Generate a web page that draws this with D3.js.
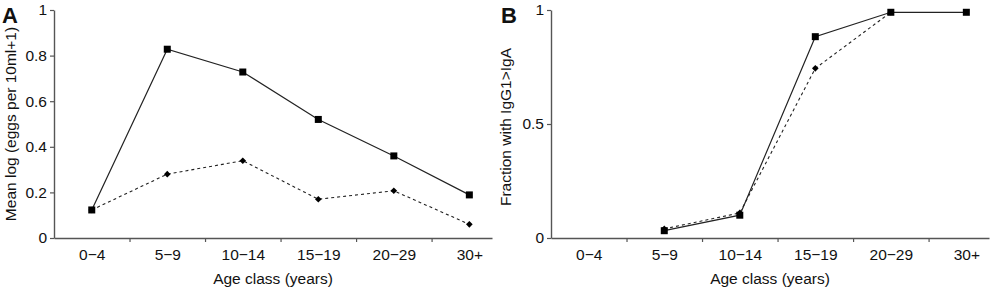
<!DOCTYPE html>
<html>
<head>
<meta charset="utf-8">
<script src="https://cdn.jsdelivr.net/npm/d3@7"></script>
<style>
body { margin: 0; background: #fff; }
text { font-family: "Liberation Sans", Arial, Helvetica, sans-serif; fill: #111; }
</style>
</head>
<body>
<script>
// age classes on the x axis (both panels)
const ageClasses = ["0\u22124", "5\u22129", "10\u221214", "15\u221219", "20\u221229", "30+"];

// panel A: mean log eggs
const eggsSolid = [0.123, 0.828, 0.728, 0.52, 0.36, 0.189];
const eggsDashed = [0.123, 0.28, 0.339, 0.17, 0.207, 0.06];
const eggsTicks = [0, 0.2, 0.4, 0.6, 0.8, 1];

// panel B: fraction IgG1 > IgA
const igSolid = [null, 0.032, 0.10, 0.883, 0.99, 0.99];
const igDashed = [null, 0.04, 0.11, 0.744, 0.99, null];
const igTicks = [0, 0.5, 1];

const W = 992, H = 291;
const svg = d3.select("body").append("svg")
    .attr("width", W)
    .attr("height", H);

const yTop = 10, yBottom = 238;
const axisCol = "#555";
const lineCol = "#222";
const fs = 15.5;

function panel(opt) {
    const g = svg.append("g");

    const x = d3.scaleLinear([-0.5, 5.3], [opt.left, opt.right]);
    const y = d3.scaleLinear([0, 1], [yBottom, yTop]);

    // x axis: tick marks between classes
    const xAx = g.append("g")
        .attr("transform", `translate(0, ${yBottom})`)
        .call(d3.axisBottom(x).tickValues([0.5, 1.5, 2.5, 3.5, 4.5]).tickSize(4).tickSizeOuter(0).tickFormat(""));
    xAx.select(".domain").attr("stroke", axisCol).attr("stroke-width", 1.4);
    xAx.selectAll(".tick line").attr("stroke", axisCol).attr("stroke-width", 1.2);

    // x labels centered on each class
    const xLab = g.append("g")
        .attr("transform", `translate(0, ${yBottom})`)
        .call(d3.axisBottom(x).tickValues(d3.range(ageClasses.length)).tickSize(0).tickPadding(11)
            .tickFormat(i => ageClasses[i]));
    xLab.select(".domain").remove();
    xLab.selectAll("text").attr("font-size", fs).style("font-family", "'Liberation Sans', Arial, sans-serif").attr("fill", "#111");

    // y axis
    const yAx = g.append("g")
        .attr("transform", `translate(${opt.left}, 0)`)
        .call(d3.axisLeft(y).tickValues(opt.ticks).tickSize(4).tickSizeOuter(0).tickPadding(3)
            .tickFormat(d => d3.format("~g")(d)));
    yAx.select(".domain").attr("stroke", axisCol).attr("stroke-width", 1.4);
    yAx.selectAll(".tick line").attr("stroke", axisCol).attr("stroke-width", 1.2);
    yAx.selectAll("text").attr("font-size", fs).style("font-family", "'Liberation Sans', Arial, sans-serif").attr("fill", "#111");

    const line = d3.line()
        .defined(d => d != null)
        .x((d, i) => x(i))
        .y(d => y(d));

    // dashed series
    g.append("path")
        .datum(opt.dashed)
        .attr("fill", "none")
        .attr("stroke", lineCol)
        .attr("stroke-width", 1.1)
        .attr("stroke-dasharray", "3,3")
        .attr("d", line);

    // solid series
    g.append("path")
        .datum(opt.solid)
        .attr("fill", "none")
        .attr("stroke", lineCol)
        .attr("stroke-width", 1.2)
        .attr("d", line);

    // diamonds = small squares turned 45 degrees
    const dia = d3.symbol().type(d3.symbolSquare).size(22);
    g.append("g").selectAll("path")
        .data(opt.dashed.map((v, i) => ({ v, i })).filter(d => d.v != null))
        .enter()
        .append("path")
        .attr("d", dia)
        .attr("fill", "#000")
        .attr("transform", d => `translate(${x(d.i)}, ${y(d.v)}) rotate(45)`);

    g.append("g").selectAll("rect")
        .data(opt.solid.map((v, i) => ({ v, i })).filter(d => d.v != null))
        .enter()
        .append("rect")
        .attr("x", d => x(d.i) - 3.5)
        .attr("y", d => y(d.v) - 3.5)
        .attr("width", 7)
        .attr("height", 7)
        .attr("fill", "#000");

    // titles
    g.append("text")
        .attr("x", (opt.left + opt.right) / 2)
        .attr("y", 284)
        .attr("text-anchor", "middle")
        .attr("font-size", fs)
        .text("Age class (years)");

    g.append("text")
        .attr("transform", `translate(${opt.yLabX}, ${opt.yLabY}) rotate(-90)`)
        .attr("text-anchor", "middle")
        .attr("font-size", fs)
        .text(opt.yLabel);

    g.append("text")
        .attr("x", opt.letterX)
        .attr("y", 23)
        .attr("font-size", 22)
        .attr("font-weight", "bold")
        .text(opt.letter);
}

panel({
    left: 54, right: 492,
    solid: eggsSolid, dashed: eggsDashed, ticks: eggsTicks,
    yLabel: "Mean log (eggs per 10ml+1)", yLabX: 16, yLabY: 124,
    letter: "A", letterX: 2
});

panel({
    left: 551, right: 989,
    solid: igSolid, dashed: igDashed, ticks: igTicks,
    yLabel: "Fraction with IgG1>IgA", yLabX: 511, yLabY: 127,
    letter: "B", letterX: 501
});
</script>
</body>
</html>
